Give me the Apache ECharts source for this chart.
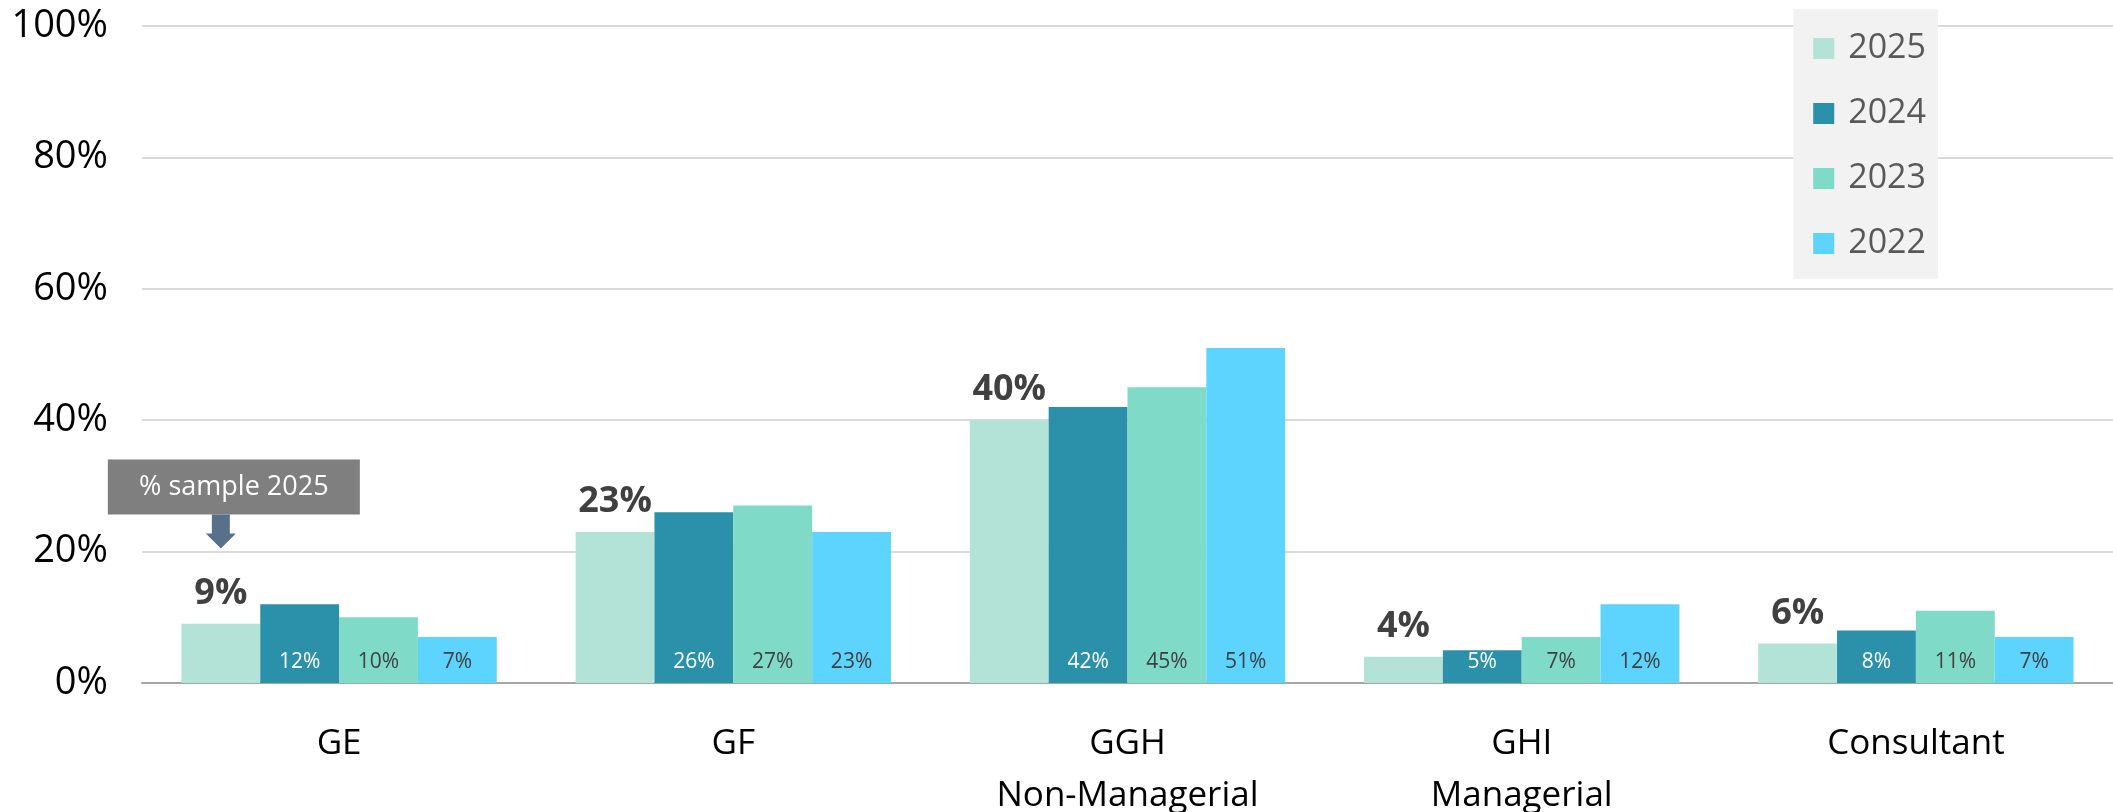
<!DOCTYPE html>
<html>
<head>
<meta charset="utf-8">
<script src="https://cdn.jsdelivr.net/npm/echarts@6/dist/echarts.min.js"></script>
<style>
  html, body { margin: 0; padding: 0; background: #ffffff; }
  #chart { width: 2113px; height: 812px; }
</style>
</head>
<body>
<div id="chart"></div>
<script>
// Share of respondents by grade, per survey year
const categories = ['GE', 'GF', 'GGH\nNon-Managerial', 'GHI\nManagerial', 'Consultant'];
const years = ['2025', '2024', '2023', '2022'];
const v2025 = [9, 23, 40, 4, 6];
const v2024 = [12, 26, 42, 5, 8];
const v2023 = [10, 27, 45, 7, 11];
const v2022 = [7, 23, 51, 12, 7];
const yTicks = [0, 20, 40, 60, 80, 100];
const calloutText = '% sample 2025';

const FONT = '"Open Sans", "Noto Sans", sans-serif';
const colors = ['#b3e2d6', '#2b90aa', '#7fdac8', '#5dd4fe'];
const seriesValues = [v2025, v2024, v2023, v2022];

const chart = echarts.init(document.getElementById('chart'), null, { renderer: 'canvas' });

function innerLabel(color) {
  return {
    show: true,
    position: 'insideBottom',
    distance: 10,
    formatter: '{c}%',
    color: color,
    fontFamily: FONT,
    fontSize: 21
  };
}

const series = years.map((y, i) => ({
  name: y,
  type: 'bar',
  data: seriesValues[i],
  barGap: '0%',
  barCategoryGap: '20%',
  itemStyle: { color: colors[i] },
  label: i === 0
    ? { show: true, position: 'top', distance: 12, formatter: '{c}%', color: '#404040',
        fontFamily: FONT, fontSize: 36, fontWeight: 'bold' }
    : innerLabel(i === 1 ? '#ffffff' : '#404040'),
  emphasis: { disabled: true },
  animation: false
}));

chart.setOption({
  animation: false,
  textStyle: { fontFamily: FONT },
  grid: { left: 142, right: 0, top: 26, bottom: 129, containLabel: false, outerBoundsMode: 'none' },
  legend: {
    orient: 'vertical',
    right: 175,
    top: 9,
    data: years,
    icon: 'rect',
    itemWidth: 21,
    itemHeight: 21,
    itemGap: 24,
    padding: [19, 12, 15, 20],
    backgroundColor: '#f2f2f2',
    textStyle: { color: '#595959', fontSize: 34, fontFamily: FONT, lineHeight: 41, padding: [0, 0, 0, 9] }
  },
  xAxis: {
    type: 'category',
    data: categories,
    axisLine: { lineStyle: { color: '#a6a6a6', width: 2 } },
    axisTick: { show: false },
    axisLabel: { color: '#000000', fontSize: 35, fontFamily: FONT, margin: 35, lineHeight: 52 }
  },
  yAxis: {
    type: 'value',
    min: yTicks[0],
    max: yTicks[yTicks.length - 1],
    interval: yTicks[1] - yTicks[0],
    axisLine: { show: false },
    axisTick: { show: false },
    splitLine: { lineStyle: { color: '#d9d9d9', width: 2 } },
    axisLabel: { formatter: '{value}%', color: '#000000', fontSize: 38, fontFamily: FONT, margin: 34 }
  },
  series: series
});

// Callout pointing at the 2025 bar of the first category
function drawCallout() {
  const c0 = chart.convertToPixel({ xAxisIndex: 0 }, categories[0]);
  const c1 = chart.convertToPixel({ xAxisIndex: 0 }, categories[1]);
  const band = c1 - c0;
  const barX = c0 - 0.3 * band;               // centre of the first of four bars
  const tipY = chart.convertToPixel({ yAxisIndex: 0 }, yTicks[1]) - 3;
  const headH = 15, shaftH = 19, shaftW = 18, headW = 30;
  const boxW = 252, boxH = 55;
  const boxBottom = tipY - headH - shaftH;
  const boxX = barX + 13 - boxW / 2;
  chart.setOption({
    graphic: [
      {
        type: 'rect', silent: true,
        shape: { x: boxX, y: boxBottom - boxH, width: boxW, height: boxH },
        style: { fill: '#7f7f7f' }
      },
      {
        type: 'text', silent: true,
        x: boxX + boxW / 2, y: boxBottom - boxH / 2,
        style: { text: calloutText, fill: '#ffffff', font: '27px ' + FONT,
                 align: 'center', verticalAlign: 'middle' }
      },
      {
        type: 'polygon', silent: true,
        shape: { points: [
          [barX - shaftW / 2, boxBottom], [barX + shaftW / 2, boxBottom],
          [barX + shaftW / 2, boxBottom + shaftH], [barX + headW / 2, boxBottom + shaftH],
          [barX, tipY], [barX - headW / 2, boxBottom + shaftH],
          [barX - shaftW / 2, boxBottom + shaftH]
        ] },
        style: { fill: '#587089' }
      }
    ]
  });
}
drawCallout();
</script>
</body>
</html>
